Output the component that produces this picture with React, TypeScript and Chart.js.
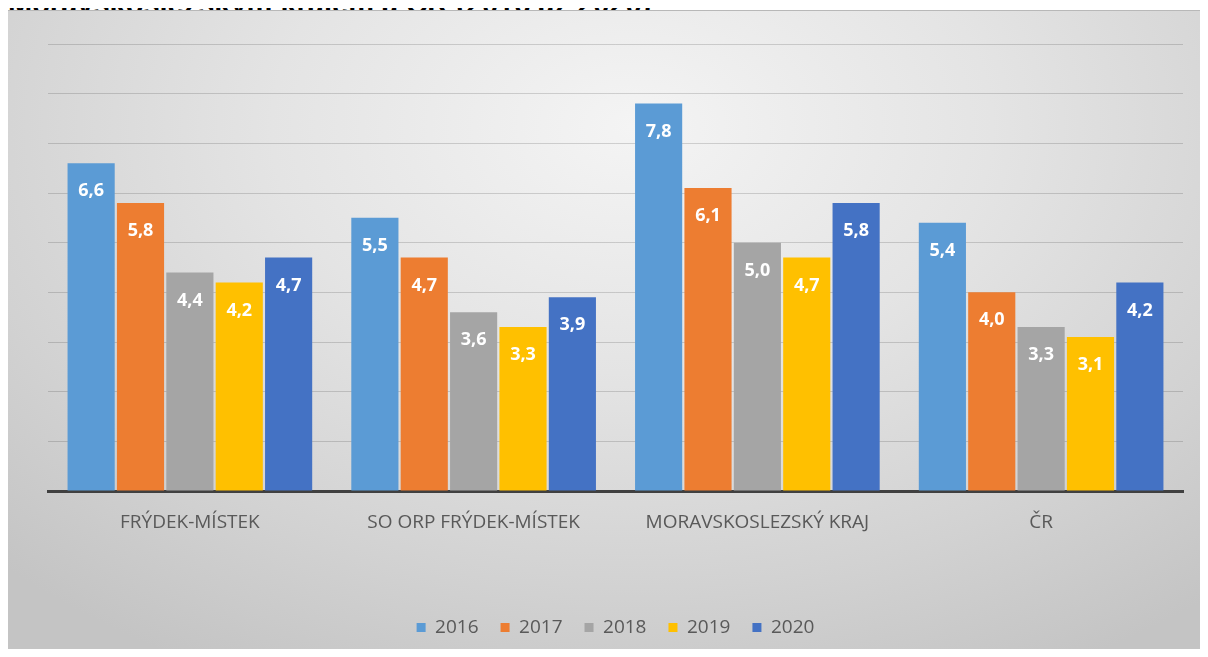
import React, { useEffect, useRef } from "react";
import { Chart, registerables } from "chart.js";

Chart.register(...registerables);

const categories = ["FRÝDEK-MÍSTEK", "SO ORP FRÝDEK-MÍSTEK", "MORAVSKOSLEZSKÝ KRAJ", "ČR"];
const seriesLabels = ["2016", "2017", "2018", "2019", "2020"];
const values2016 = [6.6, 5.5, 7.8, 5.4];
const values2017 = [5.8, 4.7, 6.1, 4.0];
const values2018 = [4.4, 3.6, 5.0, 3.3];
const values2019 = [4.2, 3.3, 4.7, 3.1];
const values2020 = [4.7, 3.9, 5.8, 4.2];
const seriesColors = ["#5B9BD5", "#ED7D31", "#A5A5A5", "#FFC000", "#4472C4"];
const titleText = "Moravskoslezským krajem a ČR (2016 až 2020)";

const valueLabelPlugin = {
  id: "valueLabels",
  afterDatasetsDraw(chart: any) {
    const ctx = chart.ctx;
    ctx.save();
    ctx.fillStyle = "#ffffff";
    ctx.font = "bold 18px 'Open Sans'";
    ctx.textAlign = "center";
    ctx.textBaseline = "middle";
    chart.data.datasets.forEach((ds: any, di: number) => {
      const meta = chart.getDatasetMeta(di);
      meta.data.forEach((bar: any, i: number) => {
        const v = ds.data[i];
        const txt = v.toFixed(1).replace(".", ",");
        ctx.fillText(txt, bar.x, bar.y + 28);
      });
    });
    ctx.restore();
  },
};

export default function App() {
  const canvasRef = useRef<HTMLCanvasElement | null>(null);

  useEffect(() => {
    document.documentElement.style.overflow = "hidden";
    document.body.style.overflow = "hidden";
    if (!canvasRef.current) return;
    const allValues = [values2016, values2017, values2018, values2019, values2020];
    const chart = new Chart(canvasRef.current, {
      type: "bar",
      data: {
        labels: categories,
        datasets: seriesLabels.map((label, i) => ({
          label,
          data: allValues[i],
          backgroundColor: seriesColors[i],
          borderWidth: 0,
          barPercentage: 0.955,
          categoryPercentage: 0.87,
        })),
      },
      options: {
        responsive: false,
        animation: false,
        layout: { padding: { left: 40, right: 25, top: 33, bottom: 10 } },
        plugins: {
          title: { display: false },
          tooltip: { enabled: false },
          legend: {
            position: "bottom",
            labels: {
              boxWidth: 9,
              boxHeight: 9,
              padding: 22,
              color: "#595959",
              font: { family: "'Open Sans'", size: 19 },
            },
          },
        },
        scales: {
          x: {
            z: 1,
            grid: { display: false },
            border: { display: true, color: "#404040", width: 3 },
            ticks: {
              color: "#595959",
              padding: 12,
              font: { family: "'Open Sans'", size: 19 },
              maxRotation: 0,
            },
            afterFit: (scale: any) => {
              scale.height = 105;
            },
          },
          y: {
            min: 0,
            max: 9,
            ticks: { display: false, stepSize: 1 },
            border: { display: false },
            grid: {
              drawTicks: false,
              color: (c: any) => (c.tick && c.tick.value === 0 ? "rgba(0,0,0,0)" : "rgba(0,0,0,0.15)"),
              lineWidth: 1,
            },
            afterFit: (scale: any) => {
              scale.width = 0;
            },
          },
        },
      },
      plugins: [valueLabelPlugin],
    });
    return () => chart.destroy();
  }, []);

  return (
    <div style={{ position: "relative", width: 1200, height: 641 }}>
      <div
        style={{
          position: "absolute",
          left: 0,
          top: -18,
          fontFamily: "'Liberation Sans', Arial, sans-serif",
          fontWeight: "bold",
          fontSize: 29,
          lineHeight: "29px",
          color: "#000",
          whiteSpace: "nowrap",
        }}
      >
        {titleText}
      </div>
      <div
        style={{
          position: "absolute",
          left: 0,
          top: 2,
          width: 1200,
          height: 647,
          background:
            "radial-gradient(ellipse 75% 95% at 52% 18%, #f4f4f4 0%, #e4e4e4 40%, #d2d2d2 75%, #c4c4c4 100%)",
          borderTop: "1px solid #b8b8b8",
          boxSizing: "border-box",
        }}
      >
        <canvas ref={canvasRef} width={1200} height={646} style={{ display: "block" }} />
      </div>
    </div>
  );
}
